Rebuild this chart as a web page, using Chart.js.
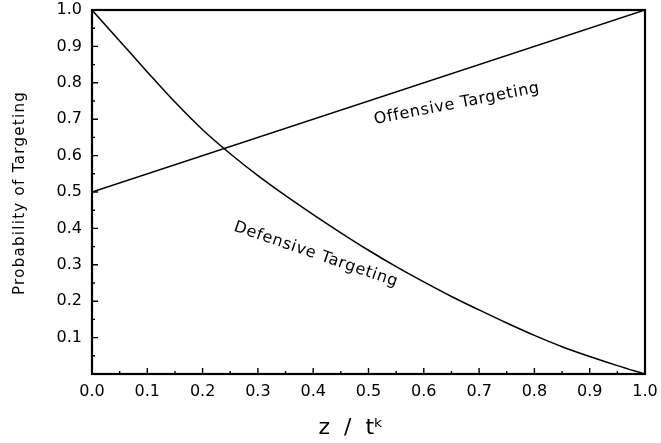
<!DOCTYPE html>
<html>
<head>
<meta charset="utf-8">
<script src="https://cdn.jsdelivr.net/npm/chart.js@4"></script>
<style>
  html, body { margin: 0; padding: 0; background: #fff; }
  #wrap { width: 661px; height: 443px; }
</style>
</head>
<body>
<div id="wrap"><canvas id="myChart"></canvas></div>
<script>
// values
var zValues = [0.0, 0.05, 0.1, 0.15, 0.2, 0.25, 0.3, 0.35, 0.4, 0.45, 0.5,
               0.55, 0.6, 0.65, 0.7, 0.75, 0.8, 0.85, 0.9, 0.95, 1.0];
var defensive = [1.0, 0.915, 0.83, 0.747, 0.671, 0.605, 0.545, 0.49, 0.438, 0.388, 0.34,
                 0.295, 0.253, 0.213, 0.176, 0.14, 0.106, 0.075, 0.048, 0.023, 0.0];
var offZ = [0.0, 1.0];
var offensive = [0.5, 1.0];
var xTicks = [0, 0.1, 0.2, 0.3, 0.4, 0.5, 0.6, 0.7, 0.8, 0.9, 1.0];
var yTicks = [0.1, 0.2, 0.3, 0.4, 0.5, 0.6, 0.7, 0.8, 0.9, 1.0];

var FONT = '"DejaVu Sans", sans-serif';

function toPoints(xs, ys) {
  return xs.map(function (z, i) { return { x: z, y: ys[i] }; });
}

// frame, inward tick marks, axis titles and the two curve labels
var decor = {
  id: 'decor',
  afterDraw: function (chart) {
    var c = chart.ctx, a = chart.chartArea;
    var xs = chart.scales.x, ys = chart.scales.y;
    c.save();
    c.strokeStyle = '#000';
    c.lineWidth = 2.2;
    c.strokeRect(a.left, a.top, a.right - a.left, a.bottom - a.top);

    c.lineWidth = 1.4;
    c.beginPath();
    for (var i = 1; i < 20; i++) {
      var v = i * 0.05;
      var len = (i % 2 === 0) ? 6 : 3;
      var px = xs.getPixelForValue(v);
      c.moveTo(px, a.bottom);
      c.lineTo(px, a.bottom - len);
      var py = ys.getPixelForValue(v);
      c.moveTo(a.left, py);
      c.lineTo(a.left + len, py);
    }
    c.stroke();

    c.fillStyle = '#000';
    c.textAlign = 'center';
    c.textBaseline = 'middle';

    // axis titles
    c.save();
    c.font = '22px ' + FONT;
    c.fillText('z  /  t\u1D4F', 351, 428);
    c.restore();

    c.save();
    c.font = '15px ' + FONT;
    c.letterSpacing = '1.3px';
    c.translate(20, 193);
    c.rotate(-Math.PI / 2);
    c.fillText('Probability of Targeting', 0, 0);
    c.restore();

    // curve labels
    c.font = '16px ' + FONT;
    c.letterSpacing = '0.7px';

    c.save();
    c.translate(xs.getPixelForValue(0.66), ys.getPixelForValue(0.742));
    c.rotate(-11 * Math.PI / 180);
    c.fillText('Offensive Targeting', 0, 0);
    c.restore();

    c.save();
    c.translate(xs.getPixelForValue(0.405), ys.getPixelForValue(0.328));
    c.rotate(19 * Math.PI / 180);
    c.fillText('Defensive Targeting', 0, 0);
    c.restore();

    c.restore();
  }
};

var ctx = document.getElementById('myChart').getContext('2d');
var chart = new Chart(ctx, {
  type: 'line',
  data: {
    datasets: [{
      label: 'Offensive Targeting',
      data: toPoints(offZ, offensive),
      borderColor: '#000',
      borderWidth: 1.5,
      pointRadius: 0,
      fill: false
    }, {
      label: 'Defensive Targeting',
      data: toPoints(zValues, defensive),
      borderColor: '#000',
      borderWidth: 1.5,
      pointRadius: 0,
      cubicInterpolationMode: 'monotone',
      fill: false
    }]
  },
  options: {
    responsive: true,
    maintainAspectRatio: false,
    animation: false,
    layout: { padding: { top: 10, right: 16, left: 0, bottom: 0 } },
    plugins: {
      legend: { display: false },
      tooltip: { enabled: false }
    },
    scales: {
      x: {
        type: 'linear',
        min: 0,
        max: 1,
        afterBuildTicks: function (s) { s.ticks = xTicks.map(function (v) { return { value: v }; }); },
        afterFit: function (s) { s.height = 69; s.paddingLeft = 0; s.paddingRight = 0; },
        grid: { display: false, drawTicks: false },
        border: { display: false },
        ticks: {
          color: '#000',
          padding: 8,
          maxRotation: 0,
          font: { family: FONT, size: 16 },
          callback: function (v) { return v.toFixed(1); }
        }
      },
      y: {
        type: 'linear',
        min: 0,
        max: 1,
        afterBuildTicks: function (s) { s.ticks = yTicks.map(function (v) { return { value: v }; }); },
        afterFit: function (s) { s.width = 92; s.paddingTop = 0; s.paddingBottom = 0; },
        grid: { display: false, drawTicks: false },
        border: { display: false },
        ticks: {
          color: '#000',
          padding: 10,
          font: { family: FONT, size: 16 },
          callback: function (v) { return v.toFixed(1); }
        }
      }
    }
  },
  plugins: [decor]
});
</script>
</body>
</html>
